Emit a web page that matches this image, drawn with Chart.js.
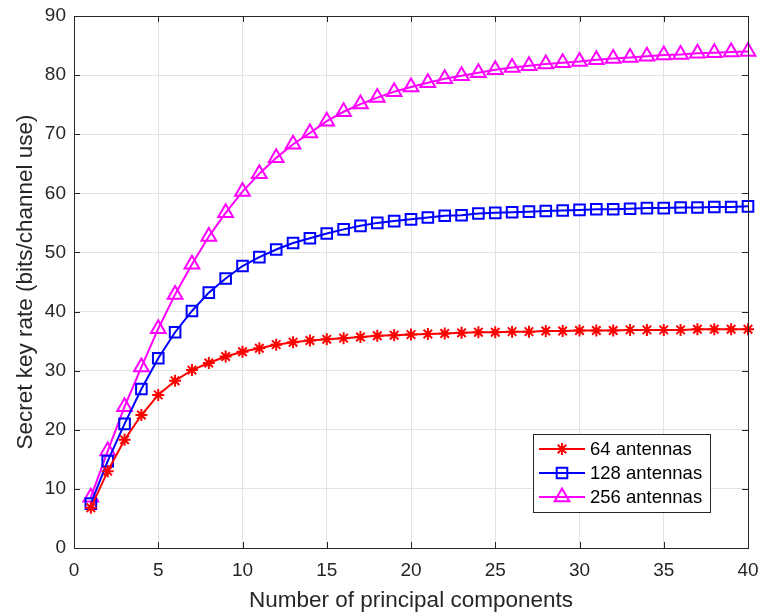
<!DOCTYPE html>
<html>
<head>
<meta charset="utf-8">
<script src="https://cdn.jsdelivr.net/npm/chart.js@4/dist/chart.umd.min.js"></script>
<style>
  html, body { margin: 0; padding: 0; background: #fff; }
  #chart1 { display: block; }
</style>
</head>
<body>
<canvas id="chart1" width="760" height="615"></canvas>
<script>
// number of principal components
var components = [];
for (var i = 1; i <= 40; i++) components.push(i);

var xTicks = [0, 5, 10, 15, 20, 25, 30, 35, 40];
var yTicks = [0, 10, 20, 30, 40, 50, 60, 70, 80, 90];

var seriesNames = ['64 antennas', '128 antennas', '256 antennas'];

var rate64 = [6.8, 13.0, 18.3, 22.5, 25.9, 28.3, 30.1, 31.3, 32.4, 33.2,
  33.8, 34.4, 34.8, 35.1, 35.3, 35.5, 35.7, 35.9, 36.0, 36.1,
  36.2, 36.3, 36.4, 36.5, 36.5, 36.6, 36.6, 36.7, 36.7, 36.8,
  36.8, 36.8, 36.9, 36.9, 36.9, 36.9, 37.0, 37.0, 37.0, 37.0];

var rate128 = [7.5, 14.7, 21.0, 26.9, 32.1, 36.5, 40.1, 43.2, 45.6, 47.7,
  49.2, 50.5, 51.6, 52.4, 53.2, 53.9, 54.5, 55.0, 55.3, 55.6,
  55.9, 56.2, 56.3, 56.6, 56.7, 56.8, 56.9, 57.0, 57.1, 57.2,
  57.3, 57.3, 57.4, 57.5, 57.5, 57.6, 57.6, 57.7, 57.7, 57.8];

var rate256 = [8.6, 16.4, 23.9, 30.6, 37.1, 42.9, 48.0, 52.7, 56.7, 60.3,
  63.3, 66.0, 68.3, 70.2, 72.2, 73.8, 75.1, 76.2, 77.2, 78.0,
  78.7, 79.4, 79.9, 80.4, 80.9, 81.3, 81.6, 81.9, 82.1, 82.3,
  82.6, 82.8, 83.0, 83.2, 83.4, 83.5, 83.7, 83.8, 83.9, 84.0];

function toPoints(arr){
  return arr.map(function(v, i){ return {x: components[i], y: v}; });
}

var FONT = '"Liberation Sans", Arial, Helvetica, sans-serif';

// matlab-like box + inward ticks
var boxPlugin = {
  id: 'box',
  afterDatasetsDraw: function(chart){
    var ctx = chart.ctx, a = chart.chartArea;
    var xs = chart.scales.x, ys = chart.scales.y;
    ctx.save();
    ctx.strokeStyle = '#262626';
    ctx.lineWidth = 1;
    ctx.beginPath();
    xTicks.forEach(function(t){
      var px = Math.round(xs.getPixelForValue(t)) + 0.5;
      ctx.moveTo(px, a.bottom); ctx.lineTo(px, a.bottom - 6);
      ctx.moveTo(px, a.top); ctx.lineTo(px, a.top + 6);
    });
    yTicks.forEach(function(t){
      var py = Math.round(ys.getPixelForValue(t)) + 0.5;
      ctx.moveTo(a.left, py); ctx.lineTo(a.left + 6, py);
      ctx.moveTo(a.right, py); ctx.lineTo(a.right - 6, py);
    });
    ctx.stroke();
    ctx.strokeRect(Math.round(a.left) + 0.5, Math.round(a.top) + 0.5,
      Math.round(a.right - a.left), Math.round(a.bottom - a.top));
    ctx.restore();
  }
};

var legendPlugin = {
  id: 'mlegend',
  afterDraw: function(chart){
    var ctx = chart.ctx, a = chart.chartArea;
    var w = 177, h = 78;
    var x0 = Math.round(a.right - 38 - w), y0 = Math.round(a.bottom - 36 - h);
    ctx.save();
    ctx.fillStyle = '#fff';
    ctx.fillRect(x0, y0, w, h);
    ctx.strokeStyle = '#262626';
    ctx.lineWidth = 1;
    ctx.strokeRect(x0 + 0.5, y0 + 0.5, w, h);
    chart.data.datasets.forEach(function(ds, i){
      var cy = y0 + 15 + i * 24;
      ctx.strokeStyle = ds.borderColor;
      ctx.lineWidth = 2;
      ctx.beginPath();
      ctx.moveTo(x0 + 6, cy); ctx.lineTo(x0 + 52, cy);
      ctx.stroke();
      ctx.fillStyle = 'rgba(0,0,0,0)';
      Chart.helpers.drawPoint(ctx, {
        pointStyle: ds.pointStyle,
        radius: ds.pointRadius,
        borderWidth: ds.pointBorderWidth,
        rotation: 0
      }, x0 + 29, cy);
      ctx.fillStyle = '#000';
      ctx.font = '18.5px ' + FONT;
      ctx.textBaseline = 'middle';
      ctx.fillText(seriesNames[i], x0 + 57, cy + 1);
    });
    ctx.restore();
  }
};

function makeSet(label, data, color, style, r){
  return {
    label: label,
    data: toPoints(data),
    borderColor: color,
    backgroundColor: 'rgba(0,0,0,0)',
    borderWidth: 2,
    pointStyle: style,
    pointRadius: r,
    pointBorderWidth: 2,
    pointBorderColor: color,
    pointBackgroundColor: 'rgba(0,0,0,0)',
    tension: 0,
    clip: false
  };
}

const ctx = document.getElementById('chart1');
new Chart(ctx, {
  type: 'line',
  data: {
    datasets: [
      makeSet(seriesNames[0], rate64, '#ff0000', 'star', 6),
      makeSet(seriesNames[1], rate128, '#0000ff', 'rect', 7.5),
      makeSet(seriesNames[2], rate256, '#ff00ff', 'triangle', 8.5)
    ]
  },
  options: {
    responsive: false,
    animation: false,
    layout: { padding: { top: 16, right: 12, left: 0, bottom: 0 } },
    plugins: {
      legend: { display: false },
      tooltip: { enabled: false }
    },
    scales: {
      x: {
        type: 'linear',
        min: 0, max: 40,
        afterBuildTicks: function(s){ s.ticks = xTicks.map(function(v){ return {value: v}; }); },
        afterFit: function(s){ s.height = 67; s.paddingLeft = 0; s.paddingRight = 0; },
        grid: { color: '#e3e3e3', drawTicks: false },
        border: { display: false },
        ticks: { color: '#262626', font: { family: FONT, size: 19 }, padding: 11, maxRotation: 0 },
        title: {
          display: true, text: 'Number of principal components',
          color: '#262626', font: { family: FONT, size: 22.5 }, padding: { top: 0, bottom: 1 }
        }
      },
      y: {
        min: 0, max: 90,
        afterBuildTicks: function(s){ s.ticks = yTicks.map(function(v){ return {value: v}; }); },
        afterFit: function(s){ s.width = 74; s.paddingTop = 0; s.paddingBottom = 0; },
        grid: { color: '#e3e3e3', drawTicks: false },
        border: { display: false },
        ticks: { color: '#262626', font: { family: FONT, size: 19 }, padding: 8 },
        title: {
          display: true, text: 'Secret key rate (bits/channel use)',
          color: '#262626', font: { family: FONT, size: 22.5 }, padding: { top: 12, bottom: 0 }
        }
      }
    }
  },
  plugins: [boxPlugin, legendPlugin]
});
</script>
</body>
</html>
